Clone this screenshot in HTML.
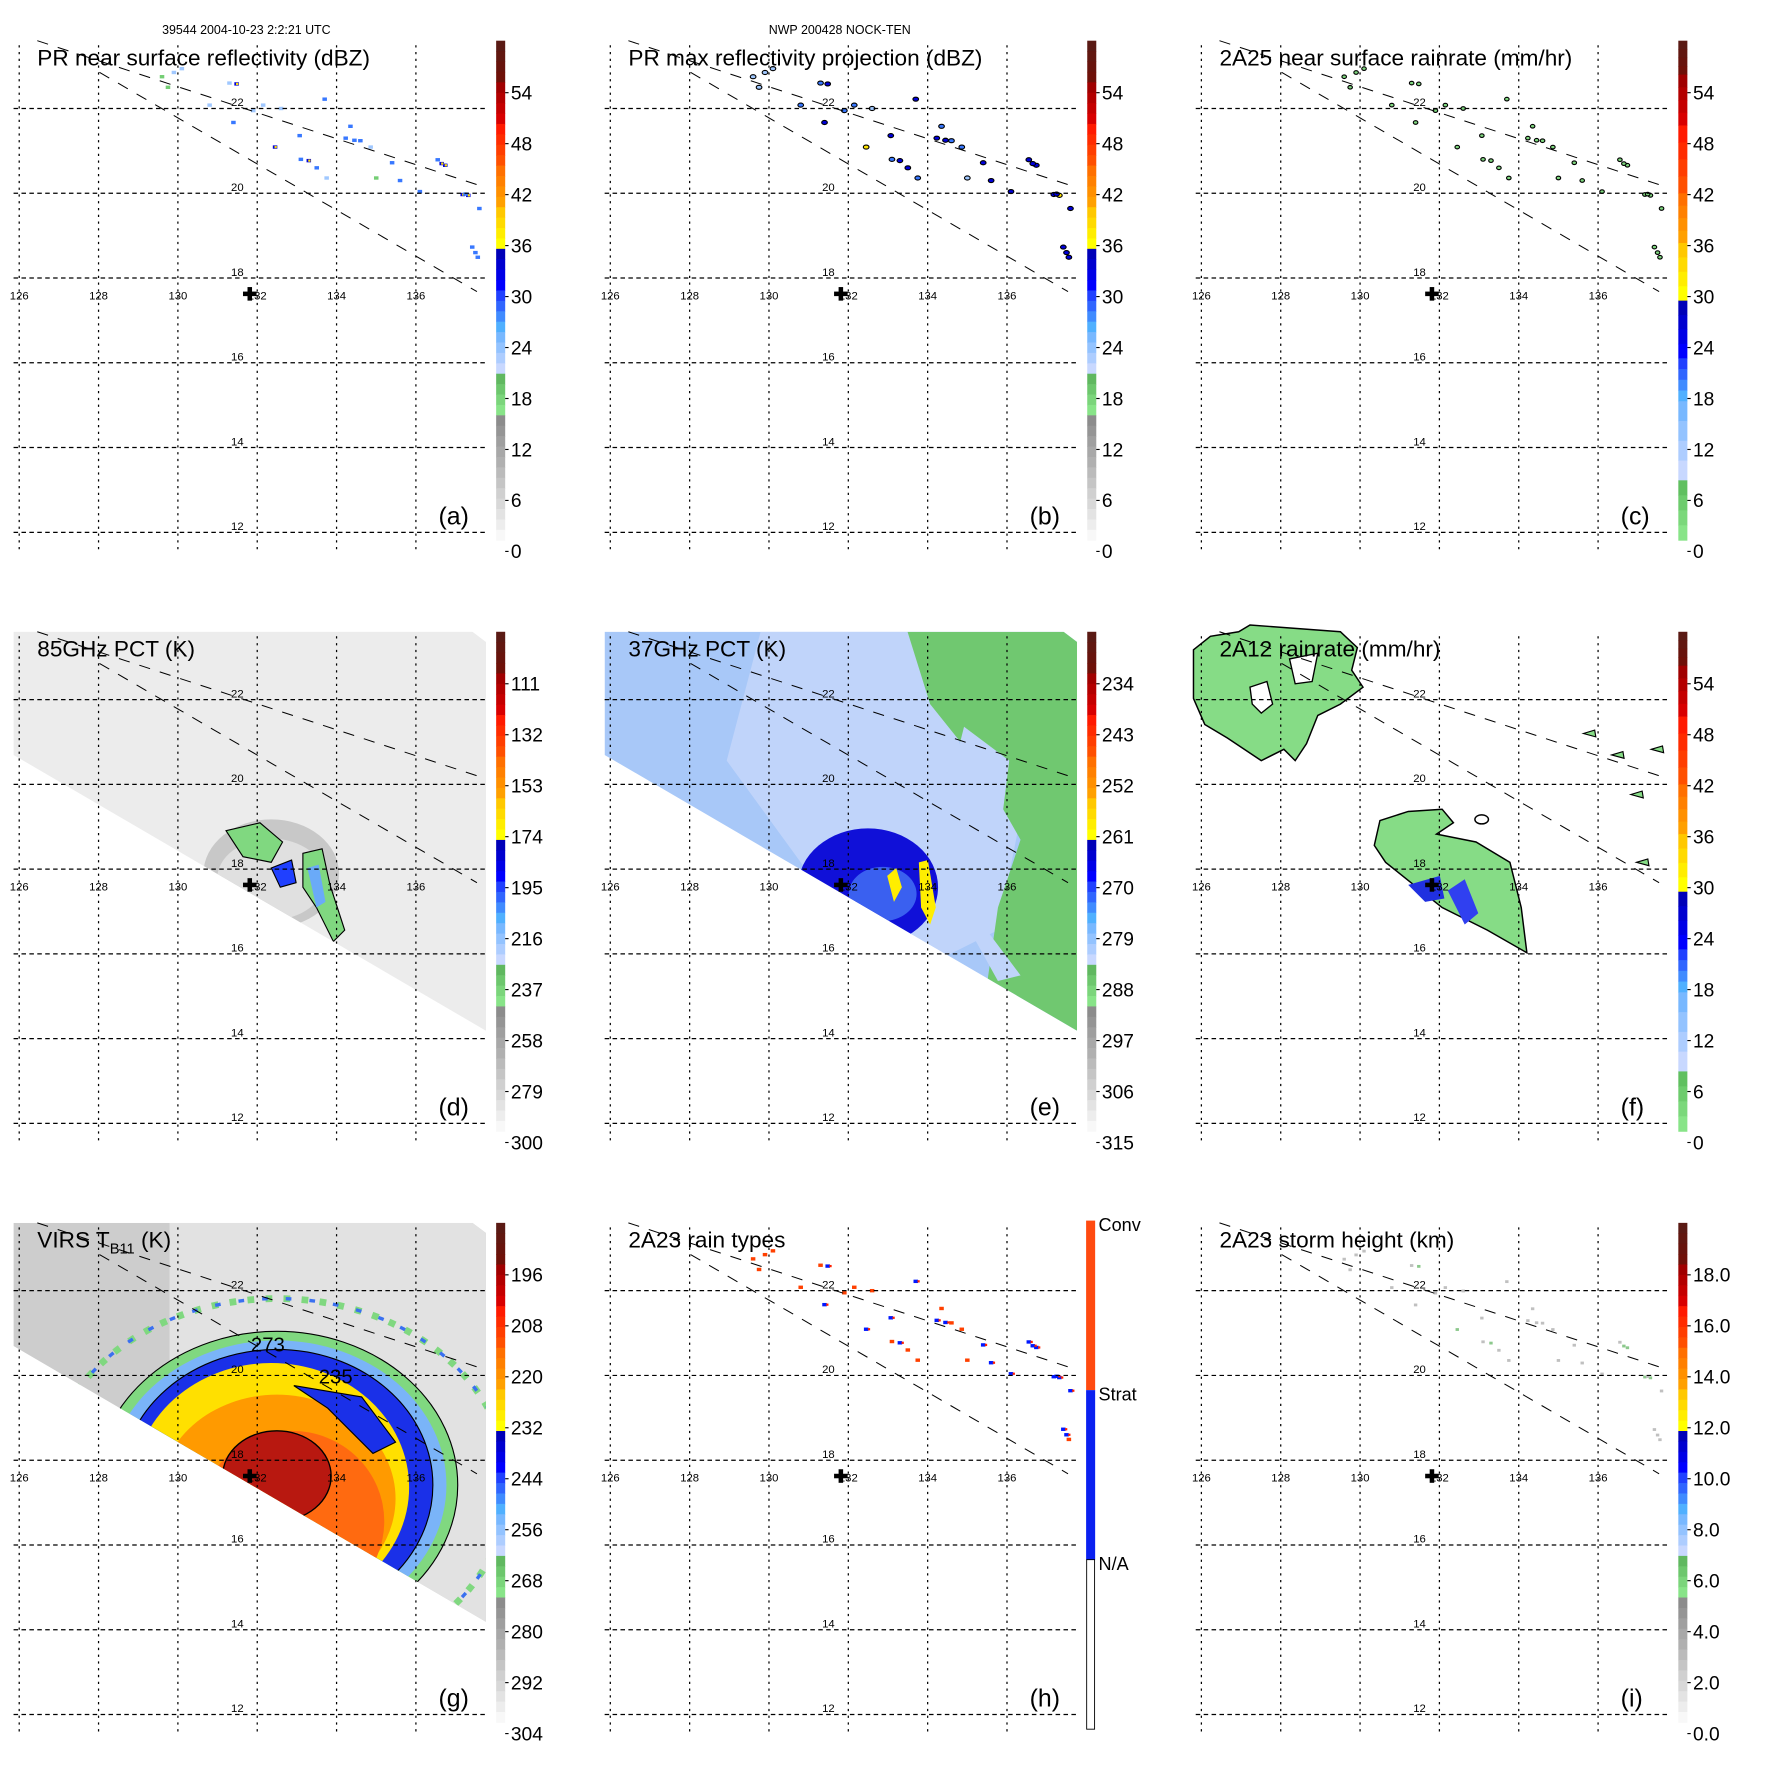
<!DOCTYPE html>
<html><head><meta charset="utf-8"><style>
html,body{margin:0;padding:0;background:#fff;}
svg{display:block;font-family:"Liberation Sans",sans-serif;}
</style></head><body>
<svg id="fig" xmlns="http://www.w3.org/2000/svg" width="1771" height="1771" viewBox="0 0 1567 1567">
<defs>
<clipPath id="swath"><polygon points="12,36 418,36 430,45 430,389 12,145"/></clipPath>
<clipPath id="box"><rect x="12" y="36" width="418" height="452"/></clipPath>
</defs>
<text x="218" y="30" font-size="11" text-anchor="middle">39544 2004-10-23 2:2:21 UTC</text>
<text x="743" y="30" font-size="11" text-anchor="middle">NWP 200428 NOCK-TEN</text>
</svg>
<script>
// ---- data ----
const lonTicks = [126,128,130,132,134,136];
const latTicks = [22,20,18,16,14,12];
const cellLon = [131.48,129.9,129.75,131.9,131.4,132.45,133.07,133.1,133.3,133.5,134.23,134.6,134.86,135.4,135.6,136.1,136.55,136.74,137.18,137.32,137.6,137.42,137.56,133.7,134.35,132.15,130.8,130.1,132.6,133.75,135.0,129.6,131.3,134.45,136.65,137.25,137.5];
const cellLat = [22.58,22.85,22.5,21.95,21.67,21.09,21.36,20.8,20.77,20.6,21.3,21.24,21.09,20.72,20.3,20.04,20.79,20.66,19.97,19.95,19.64,18.73,18.49,22.22,21.58,22.08,22.08,22.94,22.0,20.36,20.36,22.75,22.6,21.25,20.7,19.98,18.6];
const cellVal = [34,22,20,26,30,35,31,28,33,29,31,28,27,30,30,30,32,34,33,36,30,31,29,30,28,24,24,22,22,27,20,18,26,30,33,31,30];
const dbzLabels = ["54","48","42","36","30","24","18","12","6","0"];
const rainLabels = ["54","48","42","36","30","24","18","12","6","0"];
const pct85Labels = ["111","132","153","174","195","216","237","258","279","300"];
const pct37Labels = ["234","243","252","261","270","279","288","297","306","315"];
const virsLabels = ["196","208","220","232","244","256","268","280","292","304"];
const heightLabels = ["18.0","16.0","14.0","12.0","10.0","8.0","6.0","4.0","2.0","0.0"];
const rainTypeLabels = ["Conv","Strat","N/A"];

const NS="http://www.w3.org/2000/svg";
const svg=document.getElementById('fig');
function el(tag,attrs,parent){const e=document.createElementNS(NS,tag);for(const k in attrs)e.setAttribute(k,attrs[k]);(parent||svg).appendChild(e);return e;}
function lx(lon){return 17+(lon-126)*35.1;}
function ly(lat){return 96+(22-lat)*37.5;}

const dbzBands=[["#5a1a14","#6e1008"],["#a00000","#d80000"],["#ff1a00","#ff5000"],["#ff7000","#ffa000"],["#ffc800","#ffff00"],["#0000b8","#0000ff"],["#2040ff","#50b0ff"],["#78b8ff","#c8d8ff"],["#60b860","#88e488"],["#8c8c8c","#a8a8a8"],["#b0b0b0","#d0d0d0"],["#d8d8d8","#f8f8f8"]];
function mix(a,b,t){const p=s=>[1,3,5].map(i=>parseInt(s.substr(i,2),16));const A=p(a),B=p(b);return "rgb("+A.map((v,i)=>Math.round(v+(B[i]-v)*t)).join(",")+")";}
function dbzColor(v){
  let idx=11-Math.floor(v/5.5); idx=Math.max(0,Math.min(11,idx));
  return mix(dbzBands[idx][0],dbzBands[idx][1],0.5);
}

function colorbarDbz(g){
  const h=(478-36)/12;
  dbzBands.forEach((b,i)=>{for(let k=0;k<4;k++){el('rect',{x:439,y:36+i*h+k*h/4,width:8,height:h/4+0.4,fill:mix(b[0],b[1],k/3)},g);}});
}
function colorbarRain(g){
  const segs=[[36,66,"#5a1a14","#6e1008"],[66,111,"#a00000","#d80000"],[111,171,"#ff1a00","#ff5000"],[171,215,"#ff7000","#ffa000"],[215,266,"#ffc800","#ffff00"],[266,317,"#0000b8","#0000ff"],[317,355,"#2040ff","#50b0ff"],[355,425,"#78b8ff","#c8d8ff"],[425,478,"#60c060","#88e488"]];
  segs.forEach(s=>{const n=4,h=(s[1]-s[0])/n;for(let k=0;k<n;k++)el('rect',{x:439,y:s[0]+k*h,width:8,height:h+0.4,fill:mix(s[2],s[3],k/(n-1))},g);});
}
function cbLabels(g,labels){
  labels.forEach((t,i)=>{const y=82+i*45.1;
    el('line',{x1:447,x2:450,y1:y,y2:y,stroke:'#000','stroke-width':1},g);
    const tx=el('text',{x:452,y:y+6,'font-size':17},g);tx.textContent=t;
    
    
  });
}
function grid(g){
  const gg=el('g',{},g);
  
  
  lonTicks.forEach(l=>{el('line',{x1:lx(l),x2:lx(l),y1:40,y2:488,stroke:'#000','stroke-width':1.1,'stroke-dasharray':'2,4'},gg);
    const t=el('text',{x:lx(l),y:265,'font-size':10,'text-anchor':'middle'},gg);t.textContent=String(l);
    
    });
  latTicks.forEach(l=>{el('line',{x1:12,x2:430,y1:ly(l),y2:ly(l),stroke:'#000','stroke-width':1.1,'stroke-dasharray':'4,3'},gg);
    const t=el('text',{x:210,y:ly(l)-2,'font-size':10,'text-anchor':'middle'},gg);t.textContent=String(l);
    
    });
}
function swathLines(g){
  el('line',{x1:33,y1:36,x2:430,y2:166,stroke:'#000','stroke-width':0.9,'stroke-dasharray':'10,9'},g);
  el('line',{x1:88,y1:64,x2:422,y2:258,stroke:'#000','stroke-width':0.9,'stroke-dasharray':'10,9'},g);
}
function cross(g){
  const c=el('g',{},g);
  
  
  el('rect',{x:215,y:258,width:12,height:4,fill:'#000'},c);
  el('rect',{x:219,y:254,width:4,height:12,fill:'#000'},c);
}
function title(g,txt,sub){
  const t=el('text',{x:33,y:58,'font-size':20},g);
  
  
  if(sub){t.textContent='VIRS T';const s=el('tspan',{'font-size':13,dy:5},t);s.textContent='B11';const r=el('tspan',{dy:-5},t);r.textContent=' (K)';}
  else t.textContent=txt;
}
function letter(g,L){const t=el('text',{x:388,y:464,'font-size':22},g);t.textContent='('+L+')';
  
  }

function panel(col,row,name){
  const g=el('g',{transform:`translate(${col*523},${row*523})`});
  
  
  return g;
}
function cells(g,mode){
  const cg=el('g',{'clip-path':'url(#box)'},g);
  
  
  cellLon.forEach((lon,i)=>{
    const x=lx(lon),y=ly(cellLat[i]),v=cellVal[i];let r;
    if(mode==='a'){r=el('rect',{x:x-2,y:y-1.5,width:4,height:3,fill:dbzColor(v)},cg);
      if(v>=33)el('rect',{x:x-0.5,y:y-1,width:2,height:2,fill:'#ffe000'},cg);}
    else if(mode==='b'){r=el('ellipse',{cx:x,cy:y,rx:2.5,ry:1.8,fill:dbzColor(v+4),stroke:'#000','stroke-width':1},cg);}
    else if(mode==='c'){r=el('ellipse',{cx:x,cy:y,rx:2,ry:1.6,fill:'#80d880',stroke:'#000','stroke-width':1},cg);}
    else if(mode==='h'){r=el('rect',{x:x-2,y:y-1.5,width:4,height:3,fill:v>=30?'#0018ff':'#ff4000'},cg);
      if(v>=30)el('rect',{x:x+1.5,y:y-1,width:2,height:2,fill:'#ff2000'},cg);}
    else {r=el('rect',{x:x-1.5,y:y-1,width:3,height:2.5,fill:v>=33?'#8cc88c':'#c0c0c0'},cg);}
    
  });
}

// ---------- Row 1 ----------
[['a','pr-near-surface-panel','PR near surface reflectivity (dBZ)'],['b','pr-max-reflectivity-panel','PR max reflectivity projection (dBZ)'],['c','2a25-rainrate-panel','2A25 near surface rainrate (mm/hr)']].forEach((p,i)=>{
  const g=panel(i,0,p[1]);
  cells(g,p[0]);grid(g);swathLines(g);cross(g);title(g,p[2]);letter(g,p[0]);
  const cb=el('g',{},g);
  if(i<2){colorbarDbz(cb);cbLabels(cb,dbzLabels);}else{colorbarRain(cb);cbLabels(cb,rainLabels);}
});

// ---------- Row 2 ----------
(function(){
  const g=panel(0,1,'85ghz-pct-panel');
  const s=el('g',{'clip-path':'url(#swath)'},g);
  el('rect',{x:0,y:0,width:440,height:500,fill:'#ececec'},s);
  el('ellipse',{cx:240,cy:250,rx:60,ry:48,fill:'#c8c8c8'},s);
  el('ellipse',{cx:240,cy:255,rx:48,ry:36,fill:'#e0e0e0'},s);
  el('path',{d:'M200,212 L230,205 L250,222 L240,240 L215,235 Z',fill:'#80d880',stroke:'#000','stroke-width':1},s);
  el('path',{d:'M268,232 L285,228 L292,260 L305,300 L295,310 L280,280 L268,262 Z',fill:'#80d880',stroke:'#000','stroke-width':1},s);
  el('path',{d:'M272,245 L282,242 L288,275 L280,280 Z',fill:'#6aaaf8'},s);
  el('path',{d:'M240,245 L258,238 L262,258 L248,262 Z',fill:'#2040ff',stroke:'#000','stroke-width':1},s);
  grid(g);swathLines(g);cross(g);title(g,'85GHz PCT (K)');letter(g,'d');
  const cb=el('g',{},g);colorbarDbz(cb);cbLabels(cb,pct85Labels);
})();
(function(){
  const g=panel(1,1,'37ghz-pct-panel');
  const s=el('g',{'clip-path':'url(#swath)'},g);
  el('rect',{x:0,y:0,width:440,height:500,fill:'#a8c8f8'},s);
  el('path',{d:'M150,36 L300,36 L330,150 L380,200 L360,300 L300,330 L200,260 L120,150 Z',fill:'#c0d4fa'},s);
  el('path',{d:'M280,36 L430,36 L430,389 L350,350 L360,280 L380,220 L340,150 L300,100 Z',fill:'#70c870'},s);
  el('path',{d:'M330,120 L370,150 L360,230 L350,300 L380,340 L360,345 L335,300 L330,230 L320,160 Z',fill:'#c0d4fa'},s);
  el('ellipse',{cx:245,cy:262,rx:62,ry:52,fill:'#1010d8'},s);
  el('ellipse',{cx:258,cy:268,rx:30,ry:24,fill:'#3a60f0'},s);
  el('path',{d:'M262,252 L270,245 L275,262 L268,275 Z',fill:'#ffee00'},s);
  el('path',{d:'M290,240 L298,238 L305,280 L300,295 L292,280 Z',fill:'#ffee00'},s);
  grid(g);swathLines(g);cross(g);title(g,'37GHz PCT (K)');letter(g,'e');
  const cb=el('g',{},g);colorbarDbz(cb);cbLabels(cb,pct37Labels);
})();
(function(){
  const g=panel(2,1,'2a12-rainrate-panel');
  const s=el('g',{},g);
  el('path',{d:'M10,52 L25,40 L50,36 L60,30 L140,36 L155,50 L150,70 L160,85 L140,100 L120,110 L110,135 L100,150 L90,140 L70,150 L40,130 L20,118 L10,95 Z',fill:'#86dc86',stroke:'#000','stroke-width':1.3},s);
  el('path',{d:'M60,85 L75,80 L80,100 L70,108 L62,100 Z',fill:'#fff',stroke:'#000','stroke-width':1.2},s);
  el('path',{d:'M95,60 L120,55 L115,80 L100,82 Z',fill:'#fff',stroke:'#000','stroke-width':1.2},s);
  el('path',{d:'M175,203 L200,195 L230,193 L240,205 L225,215 L260,222 L290,240 L300,280 L305,320 L270,300 L230,280 L180,240 L170,225 Z',fill:'#86dc86',stroke:'#000','stroke-width':1.3},s);
  el('path',{d:'M235,265 L250,255 L262,285 L250,295 Z',fill:'#3040f0'},s);
  el('path',{d:'M200,260 L228,252 L232,272 L215,275 Z',fill:'#2030e0'},s);
  el('ellipse',{cx:265,cy:202,rx:6,ry:4,fill:'#fff',stroke:'#000','stroke-width':1.3},s);
  [[360,126],[385,145],[402,180],[407,240],[420,140]].forEach(p=>el('path',{d:`M${p[0]-5},${p[1]} L${p[0]+5},${p[1]-3} L${p[0]+6},${p[1]+3} Z`,fill:'#86dc86',stroke:'#000','stroke-width':1},s));
  grid(g);swathLines(g);cross(g);title(g,'2A12 rainrate (mm/hr)');letter(g,'f');
  const cb=el('g',{},g);colorbarRain(cb);cbLabels(cb,rainLabels);
})();

// ---------- Row 3 ----------
(function(){
  const g=panel(0,2,'virs-tb11-panel');
  const s=el('g',{'clip-path':'url(#swath)'},g);
  el('rect',{x:0,y:0,width:440,height:500,fill:'#cdcdcd'},s);
  el('rect',{x:150,y:36,width:300,height:460,fill:'#e2e2e2'},s);
  el('ellipse',{cx:245,cy:268,rx:205,ry:165,fill:'none',stroke:'#80d880','stroke-width':6,'stroke-dasharray':'6,10'},s);
  el('ellipse',{cx:245,cy:268,rx:205,ry:165,fill:'none',stroke:'#3a70f0','stroke-width':3,'stroke-dasharray':'5,16'},s);
  el('ellipse',{cx:245,cy:268,rx:160,ry:136,fill:'#80d880',stroke:'#000','stroke-width':1},s);
  el('ellipse',{cx:245,cy:268,rx:150,ry:128,fill:'#7ab4f8'},s);
  el('ellipse',{cx:245,cy:268,rx:138,ry:120,fill:'#1a30e8',stroke:'#000','stroke-width':1},s);
  el('ellipse',{cx:240,cy:270,rx:122,ry:110,fill:'#ffe000'},s);
  el('ellipse',{cx:245,cy:280,rx:105,ry:92,fill:'#ff9a00'},s);
  el('ellipse',{cx:258,cy:300,rx:82,ry:80,fill:'#ff6a10'},s);
  el('ellipse',{cx:245,cy:260,rx:48,ry:40,fill:'#b81810',stroke:'#000','stroke-width':1.2},s);
  el('path',{d:'M260,180 L320,190 L350,230 L330,240 L290,200 Z',fill:'#1a30e8',stroke:'#000','stroke-width':1},s);
  const t1=el('text',{x:222,y:150,'font-size':18},s);t1.textContent='273';
  const t2=el('text',{x:282,y:178,'font-size':18},s);t2.textContent='235';
  grid(g);swathLines(g);cross(g);title(g,'',true);letter(g,'g');
  const cb=el('g',{},g);colorbarDbz(cb);cbLabels(cb,virsLabels);
})();
(function(){
  const g=panel(1,2,'2a23-rain-types-panel');
  cells(g,'h');grid(g);swathLines(g);cross(g);title(g,'2A23 rain types');letter(g,'h');
  const cb=el('g',{},g);
  el('rect',{x:438,y:34,width:8,height:150,fill:'#ff4a10'},cb);
  el('rect',{x:438,y:184,width:8,height:150,fill:'#0a20f0'},cb);
  el('rect',{x:438.5,y:334,width:7,height:150,fill:'#fff',stroke:'#000','stroke-width':0.8},cb);
  rainTypeLabels.forEach((t,i)=>{const tx=el('text',{x:449,y:43+i*150,'font-size':16},cb);tx.textContent=t;
    
    });
})();
(function(){
  const g=panel(2,2,'2a23-storm-height-panel');
  cells(g,'i');grid(g);swathLines(g);cross(g);title(g,'2A23 storm height (km)');letter(g,'i');
  const cb=el('g',{},g);colorbarDbz(cb);cbLabels(cb,heightLabels);
})();
</script>
</body></html>
